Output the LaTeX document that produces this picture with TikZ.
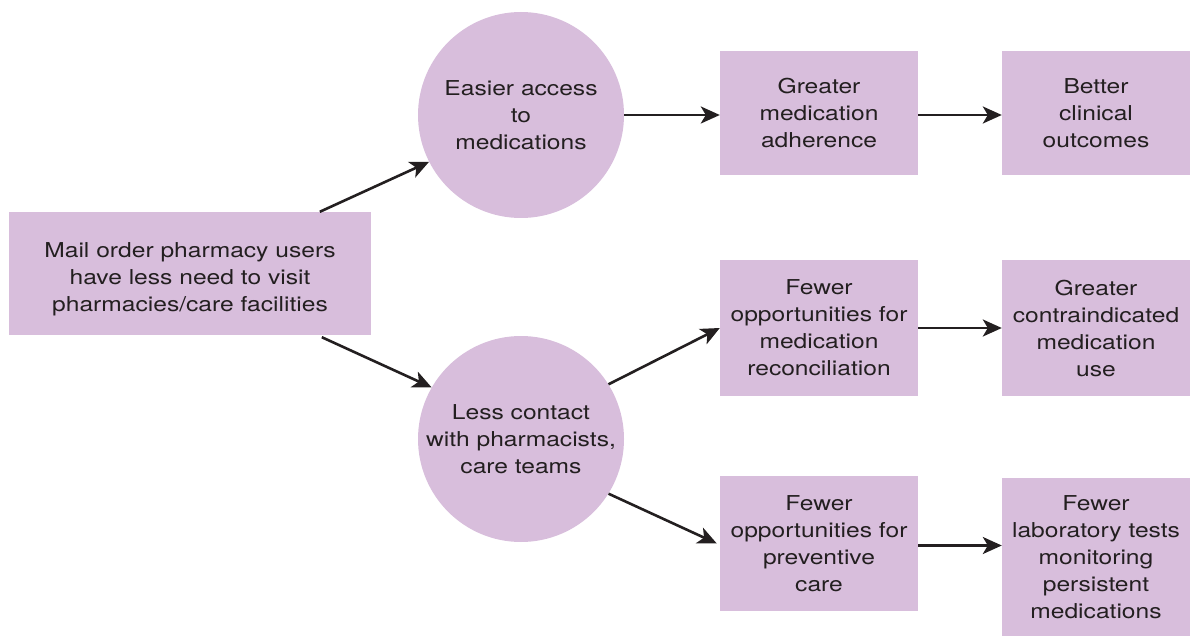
\documentclass[tikz,border=0pt]{standalone}
\usepackage{fontspec}
\setmainfont{TeX Gyre Heros}[FakeStretch=1.2]
\usetikzlibrary{arrows.meta,calc}
\definecolor{boxfill}{RGB}{216,190,220}
\definecolor{ink}{RGB}{35,31,32}
\begin{document}
\begin{tikzpicture}[x=1pt,y=-1pt,
  every node/.style={font=\fontsize{20.5}{27}\selectfont, text=ink, align=center, inner sep=0pt},
  sbox/.style={rectangle, fill=boxfill},
  bubble/.style={circle, fill=boxfill, minimum size=206pt},
  arr/.style={draw=ink, line width=2.6pt, -{Stealth[length=19pt,width=17pt,inset=5pt]}}]
\useasboundingbox (0,0) rectangle (1190,636);
\node[sbox, minimum width=362pt, minimum height=123pt, text height=81pt] (mail) at (190,273.5) {Mail order pharmacy users\\have less need to visit\\pharmacies/care facilities};
\node[bubble] (c1) at (521,115) {Easier access\\to\\medications};
\node[bubble] (c2) at (521,439) {Less contact\\with pharmacists,\\care teams};
\node[sbox, minimum width=198pt, minimum height=124pt] (adh) at (819,113) {Greater\\medication\\adherence};
\node[sbox, minimum width=188pt, minimum height=124pt] (out) at (1096,113) {Better\\clinical\\outcomes};
\node[sbox, minimum width=198pt, minimum height=136pt] (reco) at (819,328) {Fewer\\opportunities for\\medication\\reconciliation};
\node[sbox, minimum width=188pt, minimum height=136pt] (contra) at (1096,328) {Greater\\contraindicated\\medication\\use};
\node[sbox, minimum width=198pt, minimum height=135pt] (prev) at (819,543.5) {Fewer\\opportunities for\\preventive\\care};
\node[sbox, minimum width=188pt, minimum height=158pt] (lab) at (1096,557) {Fewer\\laboratory tests\\monitoring\\persistent\\medications};
\draw[arr] ($(mail.north west)+(311,0)$) -- (c1.207);
\draw[arr] ($(mail.south west)+(313,2)$) -- (c2.150);
\draw[arr] (c1.east) -- (c1.east -| adh.west);
\draw[arr] ($(adh.east)+(0,2)$) -- ($(adh.east -| out.west)+(0,2)$);
\draw[arr] (c2.32) -- (reco.west);
\draw[arr] (reco.east) -- (contra.west);
\draw[arr] (c2.-32) -- ($(prev.west)+(-3,0)$);
\draw[arr] ($(prev.east)+(0,2)$) -- ($(prev.east -| lab.west)+(0,2)$);
\end{tikzpicture}
\end{document}
